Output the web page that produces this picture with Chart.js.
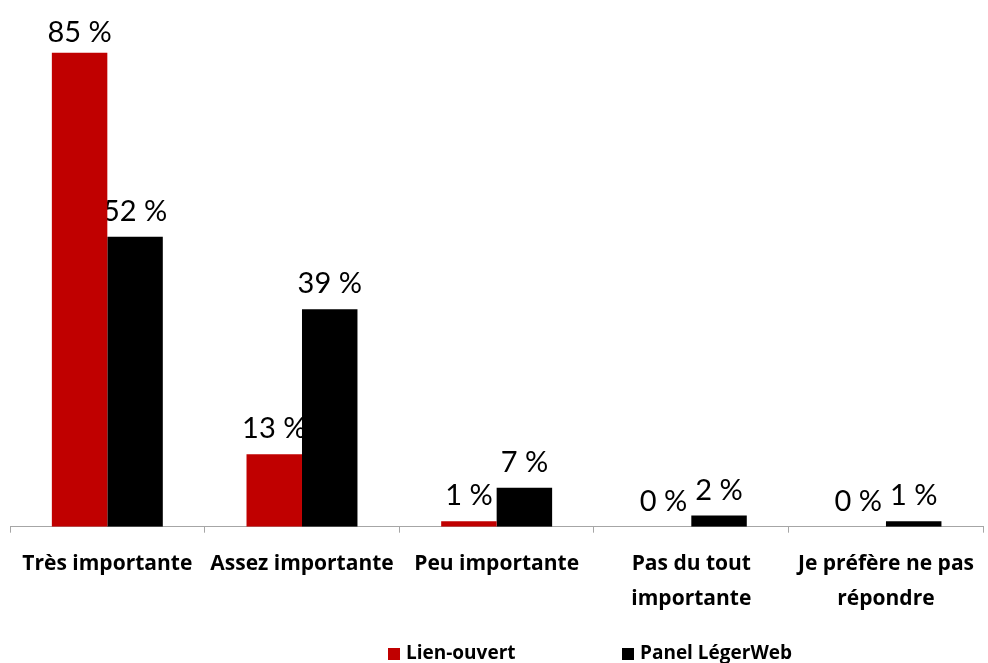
<!DOCTYPE html>
<html>
<head>
<meta charset="utf-8">
<script src="https://cdn.jsdelivr.net/npm/chart.js@4.4.1/dist/chart.umd.min.js"></script>
<style>
  html, body { margin: 0; padding: 0; background: #fff; }
  #wrap { position: relative; width: 988px; height: 663px; }
  #legend { position: absolute; top: 639px; left: 0; width: 988px; font: bold 19px "Open Sans", sans-serif; color: #000; }
  #legend span { position: absolute; white-space: nowrap; }
  #legend i { display: inline-block; width: 12px; height: 12px; margin-right: 6px; vertical-align: -1px; }
</style>
</head>
<body>
<div id="wrap">
  <canvas id="chart" width="988" height="663"></canvas>
  <div id="legend"></div>
</div>
<script>
const categories = ['Très importante', 'Assez importante', 'Peu importante', ['Pas du tout', 'importante'], ['Je préfère ne pas', 'répondre']];
const lienOuvert = [85, 13, 1, 0, 0];
const panelLegerWeb = [52, 39, 7, 2, 1];
const seriesNames = ['Lien-ouvert', 'Panel LégerWeb'];
const seriesColors = ['#c00000', '#000000'];

// labels above bars, drawn right after each dataset so the next one covers them like in Excel
const barLabels = {
    id: 'barLabels',
    afterDatasetDraw(chart, args) {
        const ctx = chart.ctx;
        const meta = args.meta;
        const data = chart.data.datasets[args.index].data;
        ctx.save();
        ctx.font = '29px Lato, sans-serif';
        ctx.fillStyle = '#000';
        ctx.textAlign = 'center';
        ctx.textBaseline = 'alphabetic';
        meta.data.forEach((bar, i) => {
            let y = bar.y - 16;
            if (y < 42) y = 42;
            ctx.fillText(data[i] + ' %', bar.x, y);
        });
        ctx.restore();
    }
};

const ctx = document.getElementById('chart').getContext('2d');
const myChart = new Chart(ctx, {
    type: 'bar',
    data: {
        labels: categories,
        datasets: [{
            label: seriesNames[0],
            data: lienOuvert,
            backgroundColor: seriesColors[0]
        }, {
            label: seriesNames[1],
            data: panelLegerWeb,
            backgroundColor: seriesColors[1]
        }]
    },
    options: {
        responsive: false,
        animation: false,
        layout: { padding: { left: 10, right: -4, top: 25, bottom: 33 } },
        datasets: { bar: { categoryPercentage: 0.57, barPercentage: 1 } },
        plugins: {
            legend: { display: false },
            tooltip: { enabled: false }
        },
        scales: {
            y: { display: false, min: 0, max: 90 },
            x: {
                border: { color: '#a6a6a6', width: 1 },
                grid: { offset: true, drawOnChartArea: false, drawTicks: true, tickLength: 6, color: '#a6a6a6' },
                ticks: {
                    color: '#000',
                    padding: 14,
                    maxRotation: 0,
                    autoSkip: false,
                    font: { family: '"Open Sans", sans-serif', size: 21, weight: 'bold', lineHeight: 1.65 }
                }
            }
        }
    },
    plugins: [barLabels]
});

// legend placed like the original (Excel puts it off-centre)
const legendX = [388, 622];
const legend = document.getElementById('legend');
seriesNames.forEach((name, i) => {
    const s = document.createElement('span');
    s.style.left = legendX[i] + 'px';
    s.innerHTML = '<i style="background:' + seriesColors[i] + '"></i>' + name;
    legend.appendChild(s);
});
</script>
</body>
</html>
